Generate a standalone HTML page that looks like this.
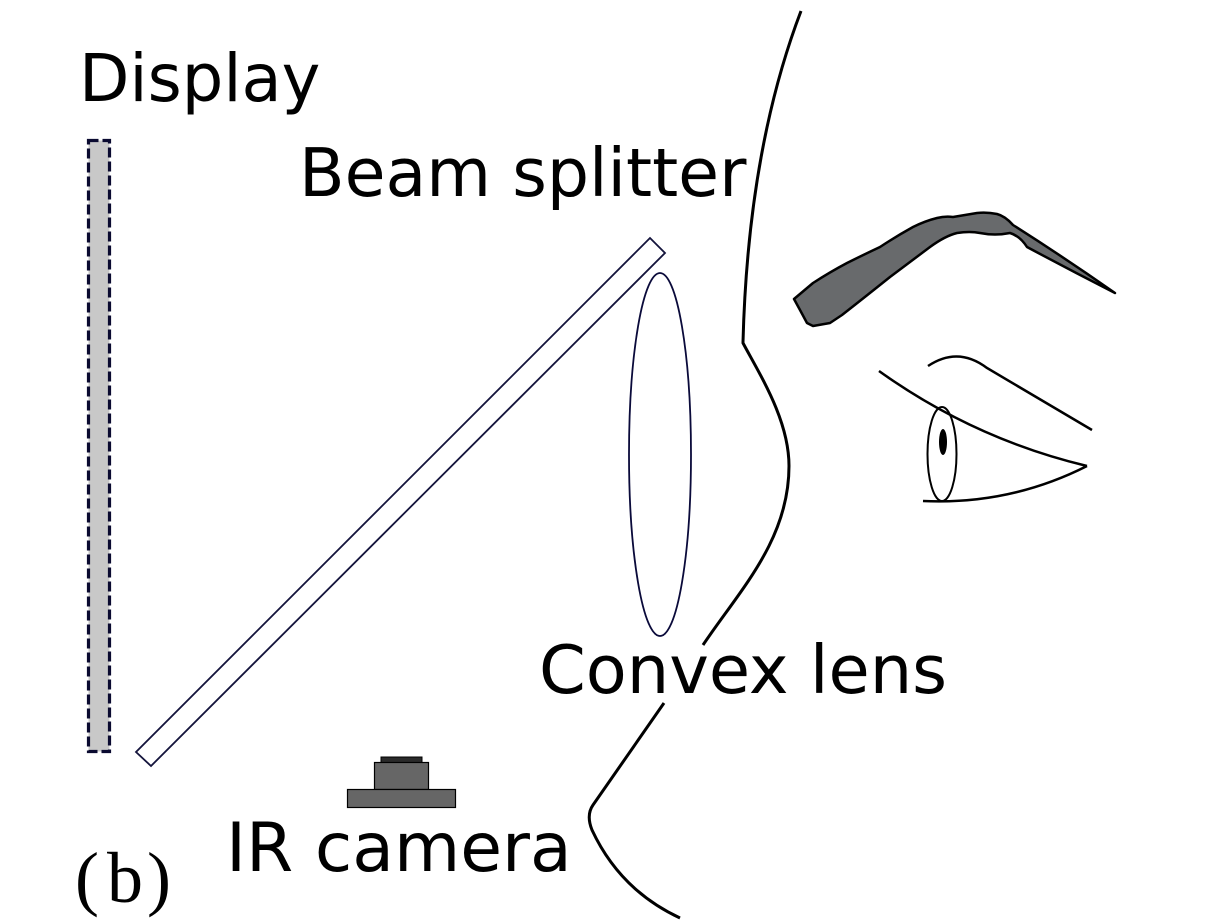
<!DOCTYPE html>
<html>
<head>
<meta charset="utf-8">
<style>
  html, body { margin: 0; padding: 0; background: #fff; }
  body { width: 1224px; height: 923px; overflow: hidden; }
  svg { display: block; }
  .lbl { font-family: "DejaVu Sans", "Liberation Sans", sans-serif; fill: #000; }
</style>
</head>
<body>
<svg width="1224" height="923" viewBox="0 0 1224 923" xmlns="http://www.w3.org/2000/svg">
  <rect x="0" y="0" width="1224" height="923" fill="#fff"/>

  <!-- Display -->
  <rect x="88.5" y="140.5" width="21" height="611" fill="#c8c8c8" stroke="#0a0a30" stroke-width="3.2" stroke-dasharray="10 4"/>

  <!-- Beam splitter -->
  <polygon points="650,238 665,253 151,766 136,752" fill="#fff" stroke="#14143c" stroke-width="1.8"/>

  <!-- Convex lens -->
  <ellipse cx="660" cy="454.5" rx="31" ry="181.5" fill="none" stroke="#0a0a3a" stroke-width="1.8"/>

  <!-- IR camera -->
  <rect x="381" y="757" width="41" height="6" fill="#2a2a2a" stroke="#000" stroke-width="1"/>
  <rect x="374.5" y="762.5" width="54" height="27" fill="#666" stroke="#000" stroke-width="1.2"/>
  <rect x="347.5" y="789.5" width="108" height="18" fill="#666" stroke="#000" stroke-width="1.2"/>

  <!-- Face profile -->
  <path d="M801,11 Q748,150 743,342 L743,343 C760,375 789,420 789,466 C789,540 740,590 703,645" fill="none" stroke="#000" stroke-width="3"/>
  <path d="M664,703 L593,805 Q586,815 592,830 Q620,890 680,918" fill="none" stroke="#000" stroke-width="3"/>

  <!-- Eyebrow -->
  <path d="M794,299 L800,310 L807,323 L813,326 L830,323 L842,315 Q865,297 890,277 Q910,262 930,247 Q945,236 957,233 Q970,231 980,233 Q995,236 1010,233 Q1020,236 1027,247 Q1070,270 1115,293 Q1065,258 1013,225 Q1005,216 997,214 Q987,212 977,213 Q965,215 953,217 Q945,216 937,218 Q925,221 913,227 Q895,237 880,247 Q863,255 847,263 Q830,272 813,283 Z" fill="#686a6c" stroke="#000" stroke-width="2.5" stroke-linejoin="round"/>

  <!-- Eye -->
  <ellipse cx="942" cy="454" rx="14.5" ry="47" fill="#fff" stroke="#000" stroke-width="2"/>
  <ellipse cx="943" cy="442" rx="4" ry="13" fill="#000"/>
  <path d="M928,366 Q958,346 987,368 L1092,430" fill="none" stroke="#000" stroke-width="2.5"/>
  <path d="M879,371 Q974,439 1087,466" fill="none" stroke="#000" stroke-width="2.5"/>
  <path d="M1087,466 Q1010,505 923,501" fill="none" stroke="#000" stroke-width="2.5"/>

  <!-- Labels -->
  <text class="lbl" x="79" y="101" font-size="65.5">Display</text>
  <text class="lbl" x="299" y="196" font-size="66.5">Beam splitter</text>
  <text class="lbl" x="539" y="693" font-size="67">Convex lens</text>
  <text class="lbl" x="226" y="871" font-size="68">IR camera</text>

  <text x="75" y="902" font-size="72" font-family="'Liberation Serif', serif" fill="#000">(</text>
  <text x="107" y="902" font-size="72" font-family="'Liberation Serif', serif" fill="#000">b</text>
  <text x="147" y="902" font-size="72" font-family="'Liberation Serif', serif" fill="#000">)</text>
</svg>
</body>
</html>
